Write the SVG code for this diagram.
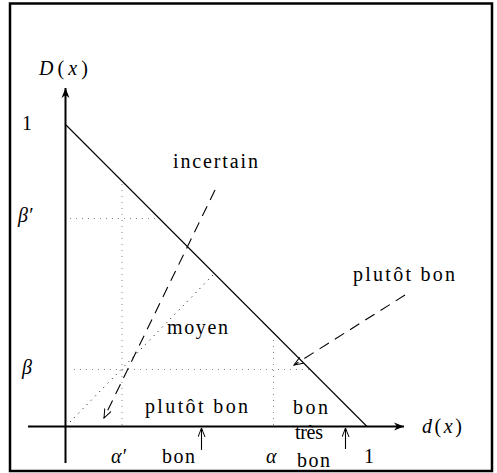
<svg xmlns="http://www.w3.org/2000/svg" width="497" height="473" viewBox="0 0 497 473">
<style>
text{font-family:"Liberation Serif","DejaVu Serif",serif;font-size:20px;fill:#000}
.m{font-style:italic}
.ax{stroke:#000;stroke-width:2;fill:none}
.thin{stroke:#000;stroke-width:1.1;fill:none}
.dot{stroke:#888;stroke-width:1;stroke-dasharray:1 5;fill:none}
.dotb{stroke:#000;stroke-width:1;stroke-dasharray:1 5;fill:none}
.dash{stroke:#000;stroke-width:1.1;stroke-dasharray:11 7;fill:none}
</style>
<defs>
<marker id="big" markerWidth="12" markerHeight="10" refX="10" refY="5" orient="auto" markerUnits="userSpaceOnUse">
<path d="M0,1 L10,5 L0,9 L3,5 Z" fill="#000"/>
</marker>
<marker id="sm" markerWidth="10" markerHeight="8" refX="9" refY="4" orient="auto" markerUnits="userSpaceOnUse">
<path d="M0,0.5 L9,4 L0,7.5" fill="none" stroke="#000" stroke-width="1"/>
</marker>
</defs>
<rect x="10" y="3.5" width="482" height="467.5" fill="#fff" stroke="#000" stroke-width="2.5"/>
<g id="connectors">
<line class="ax" x1="65.5" y1="463" x2="65.5" y2="88" marker-end="url(#big)"/>
<line class="ax" x1="28" y1="426.5" x2="404" y2="426.5" marker-end="url(#big)"/>
<line class="thin" x1="66" y1="125" x2="367" y2="426.5"/>
<line class="dot" x1="122" y1="184" x2="122" y2="425"/>
<line class="dot" x1="70" y1="218.5" x2="158" y2="218.5"/>
<line class="dot" x1="74" y1="369.5" x2="310" y2="369.5"/>
<line class="dot" x1="273.5" y1="340" x2="273.5" y2="425"/>
<line class="dotb" x1="70" y1="422" x2="214" y2="274"/>
<line class="dash" x1="215" y1="190" x2="104" y2="418" marker-end="url(#sm)"/>
<line class="dash" x1="405" y1="295" x2="294" y2="365" marker-end="url(#sm)"/>
<line class="thin" x1="201.5" y1="450" x2="201.5" y2="428" marker-end="url(#sm)"/>
<line class="thin" x1="345.5" y1="449" x2="345.5" y2="428" marker-end="url(#sm)"/>
</g>
<g id="labels">
<text x="39" y="75" textLength="49"><tspan class="m">D</tspan>(<tspan class="m">x</tspan>)</text>
<text x="22" y="130">1</text>
<text x="18" y="222" class="m">β′</text>
<text x="22" y="374" class="m">β</text>
<text x="422" y="433" textLength="40"><tspan class="m">d</tspan>(<tspan class="m">x</tspan>)</text>
<text x="111" y="463" class="m">α′</text>
<text x="266" y="463" class="m">α</text>
<text x="364" y="463">1</text>
</g>
<g id="incertain"><text x="173" y="168" textLength="85" lengthAdjust="spacing">incertain</text></g>
<g id="plutot-bon-haut"><text x="353" y="281" textLength="102" lengthAdjust="spacing">plutôt bon</text></g>
<g id="moyen"><text x="167" y="334" textLength="61" lengthAdjust="spacing">moyen</text></g>
<g id="plutot-bon-bas"><text x="145" y="413" textLength="103" lengthAdjust="spacing">plutôt bon</text></g>
<g id="bon-zone"><text x="293" y="414" textLength="35" lengthAdjust="spacing">bon</text></g>
<g id="bon-axe"><text x="162" y="463" textLength="33" lengthAdjust="spacing">bon</text></g>
<g id="tres-bon"><text x="295" y="439" textLength="28" lengthAdjust="spacing">très</text><text x="297" y="467" textLength="33" lengthAdjust="spacing">bon</text></g>
</svg>
